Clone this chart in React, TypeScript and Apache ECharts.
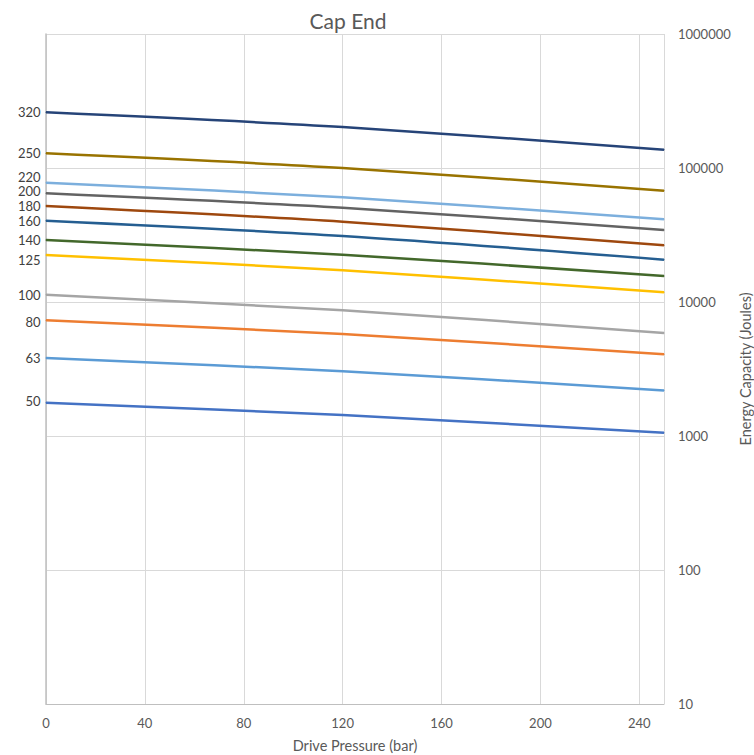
import React, { useEffect, useRef } from "react";
import * as echarts from "echarts";

// Drive pressure (bar) at which values were read
const pressures = [0, 120, 250];

// Series names (bore sizes) and energy capacity (J) values
const seriesNames = ["50", "63", "80", "100", "125", "140", "160", "180", "200", "220", "250", "320"];
const s50 = [1773, 1434, 1058];
const s63 = [3820, 3040, 2190];
const s80 = [7300, 5770, 4070];
const s100 = [11340, 8670, 5870];
const s125 = [22420, 17240, 11810];
const s140 = [29020, 22540, 15630];
const s160 = [40430, 31080, 20690];
const s180 = [52040, 39740, 26500];
const s200 = [64740, 50540, 34450];
const s220 = [77700, 60440, 41420];
const s250 = [128700, 100000, 67700];
const s320 = [260400, 202300, 136950];
const seriesValues = [s50, s63, s80, s100, s125, s140, s160, s180, s200, s220, s250, s320];

const xTicks = [0, 40, 80, 120, 160, 200, 240];

const colors = [
  "#4472C4", "#5B9BD5", "#ED7D31", "#A5A5A5", "#FFC000", "#43682B",
  "#255E91", "#9E480E", "#636363", "#7CAFDD", "#997300", "#264478",
];
const labelOffsets: Record<string, number> = { "220": -6, "200": -2, "125": 5, "80": 2, "50": -2 };

const FONT = "Lato, 'Open Sans', sans-serif";

export default function App() {
  const ref = useRef<HTMLDivElement>(null);
  useEffect(() => {
    if (!ref.current) return;
    const chart = echarts.init(ref.current, undefined, { renderer: "svg" });
    const series = seriesNames.map((name, si) => ({
      type: "line" as const,
      name,
      showSymbol: true,
      showAllSymbol: true,
      symbol: "circle",
      symbolSize: 1,
      clip: false,
      smooth: 0.3,
      lineStyle: { width: 2.5, color: colors[si] },
      itemStyle: { color: colors[si] },
      label: {
        show: true,
        position: "left",
        distance: 5,
        color: "#404040",
        fontSize: 13,
        fontFamily: FONT,
        offset: [0, labelOffsets[name] || 0],
        formatter: (p: any) => (p.dataIndex === 0 ? name : ""),
      },
      data: seriesValues[si].map((v, i) => [pressures[i], v]),
    }));
    chart.setOption({
      animation: false,
      backgroundColor: "#ffffff",
      title: {
        text: "Cap End",
        left: 343,
        textAlign: "center",
        top: 5,
        textStyle: { fontSize: 21, fontWeight: "normal", color: "#595959", fontFamily: FONT },
      },
      grid: { left: 46, right: 90, top: 34, bottom: 51, containLabel: false, outerBoundsMode: "none" },
      xAxis: {
        type: "value",
        min: 0,
        max: 250,
        interval: 40,
        name: "Drive Pressure (bar)",
        nameLocation: "middle",
        nameGap: 34,
        nameTextStyle: { fontSize: 14.5, color: "#595959", fontFamily: FONT },
        axisLine: { show: true, lineStyle: { color: "#bfbfbf", width: 1 } },
        axisTick: { show: false },
        axisLabel: {
          color: "#595959",
          fontSize: 13,
          fontFamily: FONT,
          margin: 12,
          showMaxLabel: false,
          formatter: (v: number) => (xTicks.includes(v) ? String(v) : ""),
        },
        splitLine: { show: true, lineStyle: { color: "#d9d9d9", width: 1 } },
      },
      yAxis: {
        type: "log",
        logBase: 10,
        min: 10,
        max: 1000000,
        position: "right",
        name: "Energy Capacity (Joules)",
        nameLocation: "middle",
        nameGap: 74,
        nameMoveOverlap: false,
        nameRotate: 90,
        nameTextStyle: { fontSize: 14.5, color: "#595959", fontFamily: FONT },
        axisLine: { show: true, lineStyle: { color: "#bfbfbf", width: 1.5 } },
        axisTick: { show: false },
        axisLabel: {
          color: "#595959",
          fontSize: 13,
          fontFamily: FONT,
          margin: 14,
          formatter: (v: number) => String(Math.round(v)),
        },
        splitLine: { show: true, lineStyle: { color: "#d9d9d9", width: 1 } },
      },
      series,
    });
    return () => chart.dispose();
  }, []);
  return (
    <div
      ref={ref}
      style={{ position: "fixed", left: 0, top: 0, width: 754, height: 755, background: "#fff" }}
    />
  );
}
